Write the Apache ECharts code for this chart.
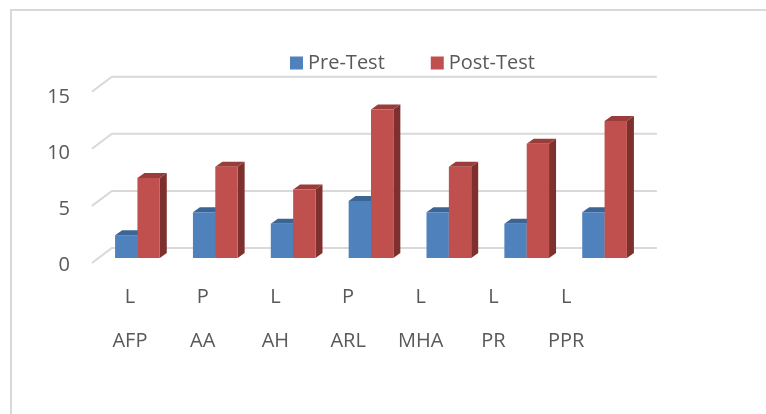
<!DOCTYPE html>
<html>
<head>
<meta charset="utf-8">
<script src="https://cdn.jsdelivr.net/npm/echarts@6/dist/echarts.min.js"></script>
<style>
    html, body { margin:0; padding:0; background:#fff; }
    #chart { width:766px; height:414px; }
</style>
</head>
<body>
<div id="chart"></div>
<script>
    // 数据
    var categories = ['AFP', 'AA', 'AH', 'ARL', 'MHA', 'PR', 'PPR'];
    var levels = ['L', 'P', 'L', 'P', 'L', 'L', 'L'];
    var preTest = [2, 4, 3, 5, 4, 3, 4];
    var postTest = [7, 8, 6, 13, 8, 10, 12];
    var yTicks = [0, 5, 10, 15];

    var textColor = '#595959';
    var fontFamily = '"Open Sans", "Liberation Sans", sans-serif';

    // 立体柱子
    function bar3d(side, front, top, right) {
        return function (params, api) {
            var c = api.coord([api.value(0), api.value(1)]);
            var b = api.coord([api.value(0), 0]);
            var band = api.size([1, 0])[0];
            var bw = band * 0.287;
            var dx = 7, dy = -5;
            var x0 = side === 0 ? c[0] - bw : c[0];
            var x1 = x0 + bw;
            var yt = c[1], yb = b[1];
            return {
                type: 'group',
                children: [{
                    type: 'polygon',
                    shape: { points: [[x1, yt], [x1 + dx, yt + dy], [x1 + dx, yb + dy], [x1, yb]] },
                    style: { fill: right }
                }, {
                    type: 'polygon',
                    shape: { points: [[x0, yt], [x0 + dx, yt + dy], [x1 + dx, yt + dy], [x1, yt]] },
                    style: { fill: top }
                }, {
                    type: 'rect',
                    shape: { x: x0, y: yt, width: bw, height: yb - yt },
                    style: { fill: front }
                }]
            };
        };
    }

    // 网格线（背墙 + 左侧斜线）
    function gridWall(params, api) {
        var cs = params.coordSys;
        var y = api.coord([0, api.value(0)])[1];
        var fx = -6.6, fy = 5, bx = 13.4, by = -10;
        var st = { stroke: '#d9d9d9', lineWidth: 2, fill: null };
        return {
            type: 'polyline',
            shape: { points: [[cs.x + fx, y + fy], [cs.x + bx, y + by], [cs.x + cs.width + bx, y + by]] },
            style: st
        };
    }

    function toPairs(arr) {
        return arr.map(function (v, i) { return [i, v]; });
    }

    var option = {
        animation: false,
        backgroundColor: '#fff',
        textStyle: { fontFamily: fontFamily },
        graphic: [{
            type: 'rect',
            shape: { x: 11, y: 10, width: 800, height: 500 },
            style: { fill: null, stroke: '#d9d9d9', lineWidth: 2 },
            silent: true
        }],
        legend: {
            data: ['Pre-Test', 'Post-Test'],
            left: 285,
            top: 48,
            icon: 'rect',
            itemWidth: 13,
            itemHeight: 13,
            itemGap: 46,
            textStyle: { color: textColor, fontSize: 20, fontFamily: fontFamily }
        },
        grid: [
            { left: 98.5, top: 86.7, width: 545, height: 171.3 },
            { left: 93.6, top: 97.5, width: 509, height: 167.5 }
        ],
        xAxis: [{
            gridIndex: 0,
            type: 'category',
            data: categories,
            show: false
        }, {
            gridIndex: 1,
            type: 'category',
            data: categories,
            axisLine: { show: false },
            axisTick: { show: false },
            axisLabel: {
                margin: 10,
                color: textColor,
                fontSize: 20,
                lineHeight: 44,
                formatter: function (v, i) { return levels[i] + '\n' + v; }
            }
        }],
        yAxis: [{
            gridIndex: 0,
            type: 'value',
            min: 0, max: 15, interval: 5,
            show: false
        }, {
            gridIndex: 1,
            type: 'value',
            min: 0, max: 15, interval: 5,
            axisLine: { show: false },
            axisTick: { show: false },
            splitLine: { show: false },
            axisLabel: { margin: 23.6, color: textColor, fontSize: 20 }
        }],
        series: [{
            type: 'custom',
            name: 'grid',
            xAxisIndex: 0, yAxisIndex: 0,
            data: yTicks.map(function (v) { return [v]; }),
            encode: { y: 0 },
            renderItem: gridWall,
            silent: true,
            z: 1
        }, {
            type: 'custom',
            name: 'Pre-Test',
            xAxisIndex: 0, yAxisIndex: 0,
            itemStyle: { color: '#4F81BD' },
            data: toPairs(preTest),
            encode: { x: 0, y: 1 },
            renderItem: bar3d(0, '#4F81BD', '#3B6594', '#2F5079'),
            z: 2
        }, {
            type: 'custom',
            name: 'Post-Test',
            xAxisIndex: 0, yAxisIndex: 0,
            itemStyle: { color: '#C0504D' },
            data: toPairs(postTest),
            encode: { x: 0, y: 1 },
            renderItem: bar3d(1, '#C0504D', '#9A3C39', '#7E302E'),
            z: 3
        }]
    };

    var myChart = echarts.init(document.getElementById('chart'));
    myChart.setOption(option);
</script>
</body>
</html>
